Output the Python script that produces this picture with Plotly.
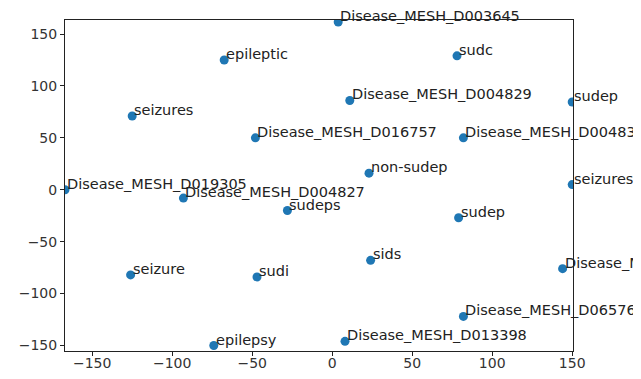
import plotly.graph_objects as go

labels = ["Disease_MESH_D003645", "sudc", "epileptic", "seizures", "Disease_MESH_D004829",
          "sudep", "Disease_MESH_D016757", "Disease_MESH_D00483", "non-sudep", "seizures",
          "Disease_MESH_D019305", "Disease_MESH_D004827", "sudeps", "sudep", "sids",
          "seizure", "sudi", "Disease_M", "Disease_MESH_D06576", "Disease_MESH_D013398",
          "epilepsy"]
x_vals = [3.75, 78, -67.5, -125, 11, 150, -48, 82, 23, 150, -167, -93, -28, 79, 24,
          -126, -47, 144, 82, 8, -74]
y_vals = [161.5, 129, 125, 71, 86, 84.5, 50, 50, 16, 5, 0, -8, -20, -27, -68,
          -82, -84, -76, -122, -146, -150]
tick_vals = [-150, -100, -50, 0, 50, 100, 150]

fig = go.Figure()
fig.add_trace(go.Scatter(
    x=x_vals, y=y_vals, mode="markers",
    marker=dict(color="#1f77b4", size=9, line=dict(width=0)),
    hoverinfo="text", text=labels, showlegend=False,
))

for lab, xv, yv in zip(labels, x_vals, y_vals):
    fig.add_annotation(x=xv, y=yv, text=lab, showarrow=False,
                       xanchor="left", yanchor="bottom", yshift=-4, xshift=0,
                       font=dict(family="DejaVu Sans", size=14.5, color="#222222"))

axis_common = dict(showgrid=False, zeroline=False, showline=True, linecolor="#222222",
                   linewidth=1, mirror=True, ticks="outside", ticklen=4,
                   tickcolor="#222222", tickvals=tick_vals, automargin=False,
                   tickfont=dict(family="DejaVu Sans", size=14, color="#333333"))

fig.update_layout(
    width=633, height=363,
    margin=dict(l=57, r=68, t=12, b=20),
    paper_bgcolor="white", plot_bgcolor="white",
    xaxis=dict(range=[-167, 150.5], ticklabelstandoff=-5, **axis_common),
    yaxis=dict(range=[-155.3, 163.5], **axis_common),
)

fig.write_html("out.html")
